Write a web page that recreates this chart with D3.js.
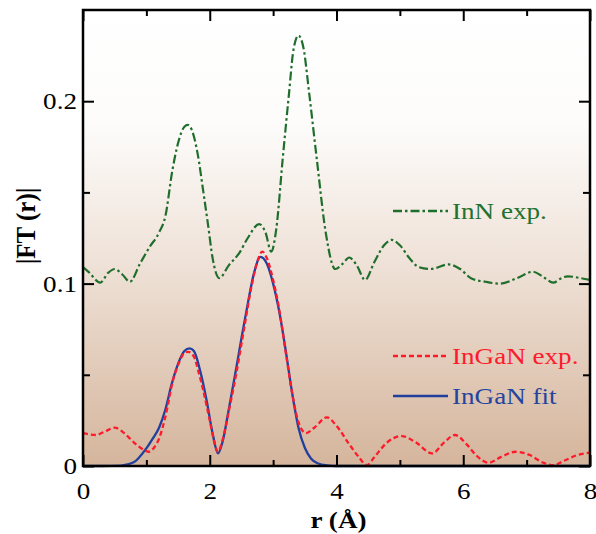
<!DOCTYPE html>
<html>
<head>
<meta charset="utf-8">
<script src="https://cdn.jsdelivr.net/npm/d3@7"></script>
<style>
  html, body { margin: 0; padding: 0; background: #fff; }
  svg { display: block; }
  text { font-family: "Liberation Serif", "DejaVu Serif", serif; }
</style>
</head>
<body>
<svg id="chart" width="596" height="534"></svg>
<script>
// ---- data ----
const innR = [0, 0.1, 0.27, 0.4, 0.5, 0.62, 0.74, 0.9, 1.05, 1.2, 1.3, 1.41, 1.5, 1.6, 1.655, 1.72, 1.81, 1.9, 1.97, 2.05, 2.15, 2.3, 2.47, 2.6, 2.78, 2.88, 2.97, 3.05, 3.15, 3.25, 3.32, 3.4, 3.48, 3.57, 3.69, 3.83, 3.98, 4.1, 4.2, 4.32, 4.45, 4.6, 4.75, 4.87, 5.0, 5.15, 5.3, 5.48, 5.77, 5.95, 6.13, 6.35, 6.58, 6.85, 7.1, 7.25, 7.42, 7.55, 7.65, 7.85, 8.0];
const innV = [0.109, 0.106, 0.1005, 0.106, 0.108, 0.105, 0.101, 0.111, 0.120, 0.128, 0.137, 0.162, 0.177, 0.186, 0.187, 0.184, 0.171, 0.150, 0.133, 0.113, 0.103, 0.110, 0.117, 0.125, 0.1326, 0.128, 0.1175, 0.130, 0.168, 0.204, 0.228, 0.236, 0.229, 0.204, 0.168, 0.128, 0.108, 0.111, 0.1143, 0.110, 0.102, 0.112, 0.121, 0.124, 0.121, 0.114, 0.109, 0.108, 0.1105, 0.108, 0.1028, 0.101, 0.100, 0.103, 0.1065, 0.104, 0.1005, 0.103, 0.104, 0.103, 0.102];

const expR = [0, 0.2, 0.35, 0.5, 0.65, 0.8, 0.95, 1.03, 1.12, 1.2, 1.3, 1.42, 1.52, 1.6, 1.66, 1.75, 1.82, 1.9, 2.0, 2.08, 2.13, 2.2, 2.3, 2.42, 2.55, 2.65, 2.75, 2.83, 2.9, 3.0, 3.1, 3.2, 3.3, 3.4, 3.52, 3.65, 3.85, 4.0, 4.2, 4.35, 4.48, 4.6, 4.8, 5.03, 5.25, 5.51, 5.7, 5.87, 6.05, 6.2, 6.4, 6.6, 6.82, 7.05, 7.25, 7.42, 7.6, 7.8, 8.0];
const expV = [0.018, 0.017, 0.019, 0.021, 0.018, 0.013, 0.009, 0.0078, 0.010, 0.015, 0.027, 0.047, 0.057, 0.062, 0.0626, 0.060, 0.052, 0.041, 0.025, 0.012, 0.0078, 0.014, 0.030, 0.051, 0.077, 0.097, 0.112, 0.1175, 0.114, 0.102, 0.085, 0.062, 0.040, 0.024, 0.018, 0.021, 0.0267, 0.022, 0.012, 0.005, 0.0005, 0.005, 0.013, 0.0164, 0.013, 0.0069, 0.013, 0.017, 0.012, 0.006, 0.0018, 0.005, 0.0078, 0.006, 0.002, 0.0005, 0.003, 0.006, 0.0073];

const fitR = [0, 0.3, 0.6, 0.8, 1.0, 1.1, 1.2, 1.3, 1.4, 1.5, 1.6, 1.68, 1.75, 1.85, 1.95, 2.05, 2.13, 2.2, 2.3, 2.42, 2.5, 2.6, 2.7, 2.8, 2.9, 3.0, 3.1, 3.2, 3.3, 3.4, 3.5, 3.6, 3.7, 3.85, 4.0, 5.0, 6.0, 7.0, 8.0];
const fitV = [0, 0, 0.0002, 0.002, 0.0097, 0.015, 0.021, 0.031, 0.045, 0.056, 0.063, 0.0645, 0.063, 0.052, 0.036, 0.017, 0.0069, 0.013, 0.031, 0.054, 0.070, 0.089, 0.106, 0.1147, 0.111, 0.100, 0.084, 0.063, 0.040, 0.021, 0.010, 0.004, 0.0015, 0.0003, 0, 0, 0, 0, 0];

const xTicks = [0, 2, 4, 6, 8];
const xMinor = [1, 3, 5, 7];
const yTicks = [0, 0.1, 0.2];
const yTickLabels = ["0", "0.1", "0.2"];
const yMinor = [0.05, 0.15];

const legendLabels = ["InN exp.", "InGaN exp.", "InGaN fit"];

// ---- layout ----
const svg = d3.select("#chart");
const L = 83, R = 590, T = 10, B = 466;
const SX = 1.13; // horizontal stretch of the glyphs in the reference
const FS = 24;
const x = d3.scaleLinear().domain([0, 8]).range([L, R]);
const y = d3.scaleLinear().domain([0, 0.25]).range([B, T]);

// background gradient
const defs = svg.append("defs");
const grad = defs.append("linearGradient").attr("id", "bg")
  .attr("x1", 0).attr("y1", 0).attr("x2", 0).attr("y2", 1);
grad.append("stop").attr("offset", "0%").attr("stop-color", "#ffffff");
grad.append("stop").attr("offset", "25%").attr("stop-color", "#fdfcfb");
grad.append("stop").attr("offset", "55%").attr("stop-color", "#efe2d8");
grad.append("stop").attr("offset", "100%").attr("stop-color", "#d5b59c");
svg.append("rect").attr("x", L).attr("y", T).attr("width", R - L).attr("height", B - T)
  .attr("fill", "url(#bg)");

// curves
const line = (rs, vs) => d3.line().x(d => x(d[0])).y(d => y(d[1]))
  .curve(d3.curveMonotoneX)(rs.map((r, i) => [r, vs[i]]));

const plot = svg.append("g");
plot.append("path").attr("d", line(innR, innV)).attr("fill", "none")
  .attr("stroke", "#1f6e2c").attr("stroke-width", 2.2)
  .attr("stroke-dasharray", "9,3,2.5,3");
plot.append("path").attr("d", line(fitR, fitV)).attr("fill", "none")
  .attr("stroke", "#213f9c").attr("stroke-width", 2.3);
plot.append("path").attr("d", line(expR, expV)).attr("fill", "none")
  .attr("stroke", "#ff1a2b").attr("stroke-width", 2.3)
  .attr("stroke-dasharray", "5,3");

// axes with inward ticks
const axB = d3.axisBottom(x).tickValues(xTicks).tickSize(-11).tickFormat(d3.format("d")).tickPadding(16);
const gB = svg.append("g").attr("transform", `translate(0,${B})`).call(axB);
const axBm = d3.axisBottom(x).tickValues(xMinor).tickSize(-6).tickFormat("");
svg.append("g").attr("transform", `translate(0,${B})`).call(axBm);
const axT = d3.axisTop(x).tickValues(xTicks).tickSize(-11).tickFormat("");
svg.append("g").attr("transform", `translate(0,${T})`).call(axT);
const axTm = d3.axisTop(x).tickValues(xMinor).tickSize(-6).tickFormat("");
svg.append("g").attr("transform", `translate(0,${T})`).call(axTm);

const axL = d3.axisLeft(y).tickValues(yTicks).tickSize(-11).tickPadding(6)
  .tickFormat((d, i) => yTickLabels[i]);
const gL = svg.append("g").attr("transform", `translate(${L},0)`).call(axL);
const axLm = d3.axisLeft(y).tickValues(yMinor).tickSize(-7).tickFormat("");
svg.append("g").attr("transform", `translate(${L},0)`).call(axLm);
const axR = d3.axisRight(y).tickValues(yTicks).tickSize(-11).tickFormat("");
svg.append("g").attr("transform", `translate(${R},0)`).call(axR);
const axRm = d3.axisRight(y).tickValues(yMinor).tickSize(-7).tickFormat("");
svg.append("g").attr("transform", `translate(${R},0)`).call(axRm);

svg.selectAll(".domain").remove();
svg.selectAll(".tick line").attr("stroke", "#000").attr("stroke-width", 2);
svg.selectAll(".tick text").attr("font-size", FS).attr("fill", "#000")
  .attr("font-family", "Liberation Serif, serif");
gB.selectAll(".tick text").attr("transform", `scale(${SX},1)`);
gL.selectAll(".tick text").attr("x", 0).attr("transform", `translate(-6,0) scale(${SX},1)`);

// frame
svg.append("rect").attr("x", L).attr("y", T).attr("width", R - L).attr("height", B - T)
  .attr("fill", "none").attr("stroke", "#000").attr("stroke-width", 2.5);

// axis titles
svg.append("text").attr("transform", `translate(${(L + R) / 2 + 2},528) scale(${SX},1)`)
  .attr("text-anchor", "middle")
  .attr("font-size", FS).attr("font-weight", "bold").text("r (Å)");
svg.append("text").attr("transform", `translate(35,226) rotate(-90) scale(1,${SX})`)
  .attr("text-anchor", "middle").attr("font-size", 25).attr("font-weight", "bold")
  .text("|FT (r)|");

// legend
const legend = [
  { label: legendLabels[0], color: "#1f6e2c", textColor: "#22722f", dash: "9,3,2.5,3", y: 211 },
  { label: legendLabels[1], color: "#ff1a2b", textColor: "#ff1a2b", dash: "5,3", y: 356 },
  { label: legendLabels[2], color: "#213f9c", textColor: "#24449e", dash: null, y: 396 }
];
legend.forEach(l => {
  const ln = svg.append("line").attr("x1", 393).attr("x2", 448).attr("y1", l.y).attr("y2", l.y)
    .attr("stroke", l.color).attr("stroke-width", 2.3);
  if (l.dash) ln.attr("stroke-dasharray", l.dash);
  svg.append("text").attr("transform", `translate(452,${l.y + 8}) scale(${SX},1)`)
    .attr("font-size", FS)
    .attr("fill", l.textColor).text(l.label);
});
</script>
</body>
</html>
